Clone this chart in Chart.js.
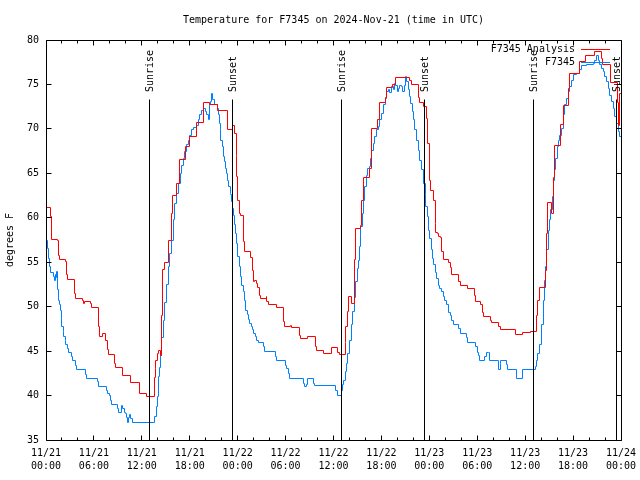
<!DOCTYPE html>
<html><head><meta charset="utf-8">
<script src="https://cdn.jsdelivr.net/npm/chart.js@4/dist/chart.umd.min.js"></script>
<style>html,body{margin:0;padding:0;background:#fff}canvas{display:block}</style>
</head><body>
<canvas id="c" width="640" height="480"></canvas>
<script>
// Hours since 11/21 00:00 UTC and temperatures (deg F)
const analysisHours = [0,0.58,0.7,1.42,1.55,1.75,2.5,2.6,2.7,3.55,
3.67,4.6,4.67,4.8,5.6,5.72,6.6,6.76,7.1,7.5,
7.68,7.8,8.6,8.76,9.6,10.6,11.65,12.6,13.56,13.65,
13.77,13.94,14.1,14.3,14.45,14.6,14.9,15.3,15.73,15.85,
16.3,16.75,17.5,17.95,18.8,19.75,20.5,21.45,22.7,23.4,
23.6,23.8,23.9,24.04,24.21,24.4,24.71,24.83,25.63,25.8,
25.96,26.1,26.3,26.5,26.71,26.88,27.55,27.65,27.88,28.8,
29.72,29.84,30.6,30.72,31.72,31.85,32.8,33.77,33.89,34.81,
35.77,36.45,36.81,37.5,37.56,37.73,37.94,38.3,38.61,38.73,
39.44,39.52,39.73,40.48,40.74,41.49,41.74,42.45,42.66,43.41,
43.74,45.49,45.79,46.62,46.83,47.25,47.66,47.79,48.0,48.17,
48.58,48.71,48.83,49.0,49.2,49.42,49.58,49.75,50.4,50.59,
50.75,51.6,51.84,52.76,53.6,53.8,54.4,54.6,54.76,55.6,
55.8,56.6,56.85,58.85,59.68,60.73,61.44,61.56,61.85,62.6,
62.69,62.77,63.31,63.52,63.73,64.48,64.78,65.44,65.61,66.78,
67.61,68.7,69.5,69.7,70.74,71.54,71.7,71.85,72];
const analysisTemps = [61.2,60.1,57.6,57.4,55.8,55.3,55.1,53.6,53.1,51.5,
50.9,50.75,50.4,50.6,50.4,49.9,47.75,46.7,47.0,46.25,
45.2,44.6,43.6,43.2,42.3,41.45,40.25,39.9,42.0,43.0,
44.0,44.75,45.05,44.5,49,54.2,55.0,57.5,60.5,62.45,
63.9,66.6,68.0,69.1,70.7,73.0,72.7,72.05,69.9,70.4,
69.5,67.0,64.6,62.0,60.5,60.3,57.3,56.2,55.5,54.1,
52.8,53.0,52.6,52.2,51.3,50.9,51.1,50.6,50.2,49.9,
48.3,47.75,47.9,47.7,46.8,46.4,46.7,45.5,45.1,44.75,
45.4,44.9,44.6,46,47.75,49.5,51.1,50.4,55.3,58.8,
59.1,62,64.55,65.5,70.06,71.0,72.95,73.5,74.7,74.94,
75.8,75.5,74.94,73.5,72.95,72.5,71.2,68.4,64.25,63.1,
62.0,59.4,58.3,58.2,57.9,57.8,56.2,55.3,55.0,54.4,
53.6,52.8,52.4,52.0,51.3,50.6,50.2,49.4,48.9,48.5,
48.2,47.8,47.45,46.9,47.1,47.25,49,50.75,52.2,54.1,
58.25,61.7,60.5,64.5,68.1,70.5,72.6,74.5,76.25,77.6,
78.3,78.7,77.9,77.2,75.2,73.0,70.4,74.0,74.0];

const obsHours = [0,0.21,0.33,0.46,0.585,0.96,1.04,1.17,1.25,1.34,
1.42,1.545,1.67,1.8,1.88,2.0,2.13,2.25,2.42,2.5,
2.67,2.8,3.21,3.34,3.72,3.84,4.93,5.09,6.47,6.6,
7.6,7.76,7.89,8.05,8.22,8.93,9.1,9.47,9.6,9.77,
9.93,10.06,10.18,10.31,10.43,10.56,10.77,13.56,13.86,13.98,
14.11,14.19,14.3,14.5,14.7,14.9,15.1,15.3,15.5,15.73,
15.94,16.15,16.36,16.57,16.78,16.99,17.2,17.4,17.61,17.82,
18.03,18.24,18.45,18.87,19.07,19.28,19.49,19.7,19.91,20.12,
20.33,20.45,20.62,20.74,20.87,21.04,21.2,21.45,21.58,21.7,
21.79,21.91,22.04,22.2,22.33,22.45,22.62,22.75,22.87,23.04,
23.1,23.25,23.37,23.46,23.58,23.71,23.87,24.04,24.21,24.38,
24.54,24.71,24.88,25.04,25.21,25.38,25.54,25.71,25.88,26.04,
26.21,26.38,26.59,27.21,27.34,28.72,28.88,29.93,30.14,30.34,
30.55,32.22,32.39,32.56,32.72,33.47,33.6,36.31,36.48,36.94,
37.15,37.31,37.48,37.65,37.81,37.98,38.2,38.4,38.6,38.8,
39.0,39.11,39.23,39.4,39.57,39.73,39.9,40.07,40.28,40.48,
40.65,40.82,40.99,41.19,41.4,41.61,41.82,42.03,42.24,42.45,
42.66,42.86,43.07,43.28,43.49,43.66,43.82,43.99,44.16,44.32,
44.53,44.66,44.83,45.0,45.16,45.33,45.49,45.66,45.83,45.99,
46.2,46.41,46.62,46.83,47.04,47.25,47.46,47.58,47.75,47.92,
48.08,48.25,48.42,48.58,48.75,48.92,49.13,49.33,49.54,49.75,
49.96,50.17,50.38,50.59,50.8,51.0,51.63,51.84,52.67,52.8,
53.84,54.01,54.18,54.34,54.97,55.18,55.39,55.59,56.68,56.85,
56.97,57.6,57.77,58.93,59.68,61.31,61.44,61.6,61.77,62.0,
62.27,62.4,62.52,62.69,62.86,63.02,63.19,63.36,63.52,63.69,
63.86,64.02,64.19,64.36,64.57,64.78,64.98,65.19,65.4,65.61,
65.82,66.03,66.45,66.86,67.07,67.7,68.53,68.74,68.95,69.16,
69.37,69.58,69.78,69.99,70.2,70.41,70.62,70.83,71.04,71.24,
71.45,71.66,71.79,72];
const obsTemps = [57.5,56.6,55.4,54.5,53.9,53.4,53.0,53.6,53.3,54.0,
51.9,50.75,50.2,49.55,48.7,47.75,47.2,46.6,46.2,45.7,
45.3,44.9,44.4,44.0,43.4,42.95,42.4,41.9,41.6,41.0,
40.6,40.2,40.0,39.5,39.05,38.6,38.08,38.9,38.6,38.08,
38.0,37.5,37.0,37.5,37.9,37.4,37.0,37.6,38.75,39.9,
42.1,43.2,44.5,46.5,48.5,50.5,52.5,54.5,56,57.5,
59.75,61.6,62.75,63.9,65.0,65.9,66.7,67.4,68.2,68.75,
69.3,69.95,70.2,70.4,71.0,71.6,72.1,72.3,71.9,71.6,
71.0,72.7,73.06,74.0,73.3,72.7,72.7,72.3,71.6,70.6,
69.9,68.75,68.0,66.9,66.3,65.6,65.0,64.25,63.5,62.75,
62.6,61.8,61.0,60.3,59.2,58.25,57.1,55.6,54.5,53.4,
52.4,51.7,50.75,49.6,49.1,48.6,48.1,47.75,47.4,47.0,
46.6,46.25,45.95,45.5,44.94,44.4,43.9,43.4,43.1,42.5,
41.94,41.4,41.0,41.2,41.9,41.4,41.1,40.6,40.06,40.6,
41.2,41.75,42.7,43.6,44.75,46.25,48,49.5,51,52.8,
54.3,55.25,56.75,59.0,60.5,62.0,63.5,64.8,65.5,65.75,
66.7,67.6,68.4,69.1,69.9,70.25,71.0,71.75,72.7,73.4,
74.2,74.4,74.1,74.75,74.4,75.1,74.9,74.2,74.6,74.9,
74.75,74.2,74.9,75.9,75.3,74.4,73.6,72.9,71.9,71.0,
69.9,68.75,67.6,66.5,65.4,63.9,62.6,61.25,60.1,58.6,
57.7,56.4,55.4,54.7,53.9,53.2,52.4,52.1,51.7,51.1,
50.75,50.2,49.4,49.06,48.5,48.05,47.5,47.0,46.5,46.0,
45.5,44.9,44.5,44.0,44.4,44.9,44.9,44.0,42.95,43.6,
44.0,43.5,42.95,41.94,42.9,43.3,44.0,44.75,45.7,48.0,
50.75,53.0,54.5,56.4,58.6,59.75,60.9,62.4,64.25,65.4,
66.7,68.0,68.75,69.3,70.06,71.6,72.7,73.4,74.2,74.75,
75.5,76.1,76.25,76.7,77.1,77.2,77.4,77.75,78.3,77.75,
77.2,76.8,76.4,75.9,75.3,74.6,73.8,73.1,72.3,71.4,
70.6,69.7,69.1,69.3];

const sunHours = [12.93, 23.36, 36.98, 47.38, 61.02, 71.45];
const sunLabels = ['Sunrise','Sunset','Sunrise','Sunset','Sunrise','Sunset'];
const dayLabels = ['11/21','11/22','11/23','11/24'];
const seriesNames = ['F7345 Analysis','F7345'];
const titleText = 'Temperature for F7345 on 2024-Nov-21 (time in UTC)';
const yAxisTitle = 'degrees F';

const FAMILY = '"DejaVu Sans Mono", monospace';
const FONT = '10px ' + FAMILY;
const COLORS = ['#ff0000', '#0080ff'];

function toXY(hs, ts){ return hs.map((h,i)=>({x:h, y:ts[i]})); }
function pad2(n){ return (n<10?'0':'')+n; }

const gnuLook = {
  id: 'gnuLook',
  beforeDatasetsDraw(chart){
    chart.data.datasets.forEach((ds,i)=>{
      const meta = chart.getDatasetMeta(i);
      meta.data.forEach(p=>{ p.x = Math.floor(p.x)+0.5; p.y = Math.floor(p.y)+0.5; });
    });
  },
  afterDraw(chart){
    const ctx = chart.ctx;
    const xs = chart.scales.x, ys = chart.scales.y;
    const {left, right, top, bottom} = chart.chartArea;
    const L = Math.floor(left)+0.5, R = Math.floor(right)+0.5, T = Math.floor(top)+0.5, B = Math.floor(bottom)+0.5;
    ctx.save();
    ctx.strokeStyle = '#000'; ctx.lineWidth = 1;
    ctx.beginPath();
    ctx.rect(L, T, R-L, B-T);
    for (let h = 0; h <= 72; h += 2){
      const x = Math.floor(xs.getPixelForValue(h))+0.5;
      const len = (h % 6 === 0) ? 5 : 3;
      ctx.moveTo(x, B); ctx.lineTo(x, B-len);
      ctx.moveTo(x, T); ctx.lineTo(x, T+len);
    }
    for (let v = 35; v <= 80; v += 5){
      const y = Math.floor(ys.getPixelForValue(v))+0.5;
      ctx.moveTo(L, y); ctx.lineTo(L+5, y);
      ctx.moveTo(R, y); ctx.lineTo(R-5, y);
    }
    // sunrise / sunset markers
    sunHours.forEach(h=>{
      const x = Math.floor(xs.getPixelForValue(h))+0.5;
      ctx.moveTo(x, T+59); ctx.lineTo(x, B);
    });
    ctx.stroke();
    ctx.fillStyle = '#000';
    ctx.font = FONT;
    sunHours.forEach((h,i)=>{
      const x = Math.floor(xs.getPixelForValue(h))+1;
      ctx.save();
      ctx.translate(x, top+52);
      ctx.rotate(-Math.PI/2);
      ctx.textAlign = 'left'; ctx.textBaseline = 'middle';
      ctx.fillText(sunLabels[i], 0, 0);
      ctx.restore();
    });
    // legend
    ctx.textAlign = 'right'; ctx.textBaseline = 'middle';
    chart.data.datasets.forEach((ds,i)=>{
      const y = Math.floor(top + 9 + i*13) + 0.5;
      ctx.fillStyle = '#000';
      ctx.fillText(ds.label, right-46, y);
      ctx.strokeStyle = ds.borderColor;
      ctx.beginPath(); ctx.moveTo(right-40, y); ctx.lineTo(right-11, y); ctx.stroke();
    });
    // title
    ctx.fillStyle = '#000';
    ctx.textAlign = 'center'; ctx.textBaseline = 'middle';
    ctx.fillText(titleText, (left+right)/2, 20);
    // y axis title
    ctx.save();
    ctx.translate(10, (top+bottom)/2);
    ctx.rotate(-Math.PI/2);
    ctx.fillText(yAxisTitle, 0, 0);
    ctx.restore();
    ctx.restore();
  }
};

new Chart(document.getElementById('c'), {
  type: 'line',
  data: {
    datasets: [
      { label: seriesNames[0], data: toXY(analysisHours, analysisTemps), borderColor: COLORS[0], borderWidth: 1, stepped: true, pointRadius: 0, fill: false },
      { label: seriesNames[1], data: toXY(obsHours, obsTemps), borderColor: COLORS[1], borderWidth: 1, stepped: true, pointRadius: 0, fill: false }
    ]
  },
  options: {
    responsive: false,
    animation: false,
    events: [],
    layout: { padding: { top: 40, right: 19, left: 0, bottom: 0 } },
    plugins: { legend: { display: false }, title: { display: false }, tooltip: { enabled: false } },
    scales: {
      x: {
        type: 'linear', min: 0, max: 72,
        grid: { display: false, drawTicks: false },
        border: { display: false },
        afterFit(s){ s.height = 40; s.paddingLeft = 0; s.paddingRight = 0; },
        afterBuildTicks(s){ s.ticks = []; for (let h=0; h<=72; h+=6) s.ticks.push({value:h}); },
        ticks: {
          autoSkip: false, maxRotation: 0, minRotation: 0, padding: 7,
          color: '#000', font: { family: FAMILY, size: 10, lineHeight: 1.3 },
          callback: v => [dayLabels[Math.floor(v/24)], pad2(v % 24) + ':00']
        }
      },
      y: {
        min: 35, max: 80,
        grid: { display: false, drawTicks: false },
        border: { display: false },
        afterFit(s){ s.width = 46; s.paddingTop = 0; s.paddingBottom = 0; },
        ticks: { stepSize: 5, padding: 7, color: '#000', font: { family: FAMILY, size: 10 } }
      }
    }
  },
  plugins: [gnuLook]
});
</script>
</body></html>
